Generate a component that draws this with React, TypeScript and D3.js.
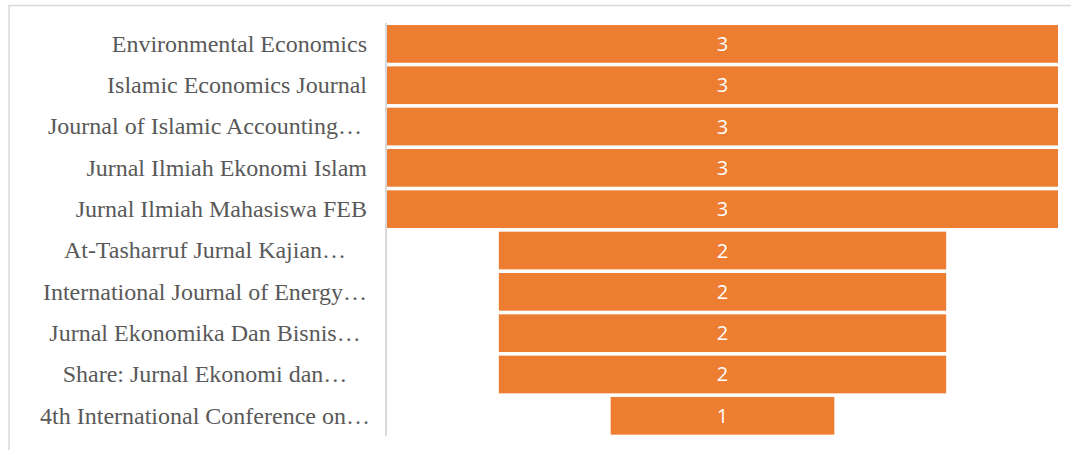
import React from "react";
import * as d3 from "d3";

const categories = [
  "Environmental Economics",
  "Islamic Economics Journal",
  "Journal of Islamic Accounting…",
  "Jurnal Ilmiah Ekonomi Islam",
  "Jurnal Ilmiah Mahasiswa FEB",
  "At-Tasharruf Jurnal Kajian…",
  "International Journal of Energy…",
  "Jurnal Ekonomika Dan Bisnis…",
  "Share: Jurnal Ekonomi dan…",
  "4th International Conference on…",
];
const values = [3, 3, 3, 3, 3, 2, 2, 2, 2, 1];

const W = 1071;
const H = 450;

export default function App() {
  const y = d3.scaleBand<string>().domain(categories).range([21.4, 438.3]).padding(0.088);
  const x = d3.scaleLinear().domain([0, 3]).range([0, 671]);
  const cx = 722.5;
  const axisX = 386;
  return (
    <svg
      width={W}
      height={H}
      style={{ position: "absolute", left: 0, top: 0, display: "block", background: "#fff" }}
    >
      <rect x={9} y={5.5} width={1100} height={500} fill="#fff" stroke="#d9d9d9" strokeWidth={1.5} />
      {categories.map((c, i) => {
        const v = values[i];
        const w = x(v);
        const yy = y(c)!;
        const bh = y.bandwidth();
        const truncated = c.endsWith("…");
        return (
          <g key={c}>
            <rect x={cx - w / 2} y={yy} width={w} height={bh} fill="#ED7D31" />
            <text
              x={cx}
              y={yy + bh / 2}
              dy="0.35em"
              textAnchor="middle"
              fill="#fff"
              fontFamily="'Open Sans', 'Noto Sans', sans-serif"
              fontSize={20}
            >
              {v}
            </text>
            <text
              x={truncated ? 205 : 367}
              y={yy + bh / 2}
              dy="0.33em"
              textAnchor={truncated ? "middle" : "end"}
              fill="#595959"
              fontFamily="'Liberation Serif', 'Times New Roman', serif"
              fontSize={24}
            >
              {c}
            </text>
          </g>
        );
      })}
      <line x1={axisX} x2={axisX} y1={23} y2={436} stroke="#d9d9d9" strokeWidth={2} />
    </svg>
  );
}
